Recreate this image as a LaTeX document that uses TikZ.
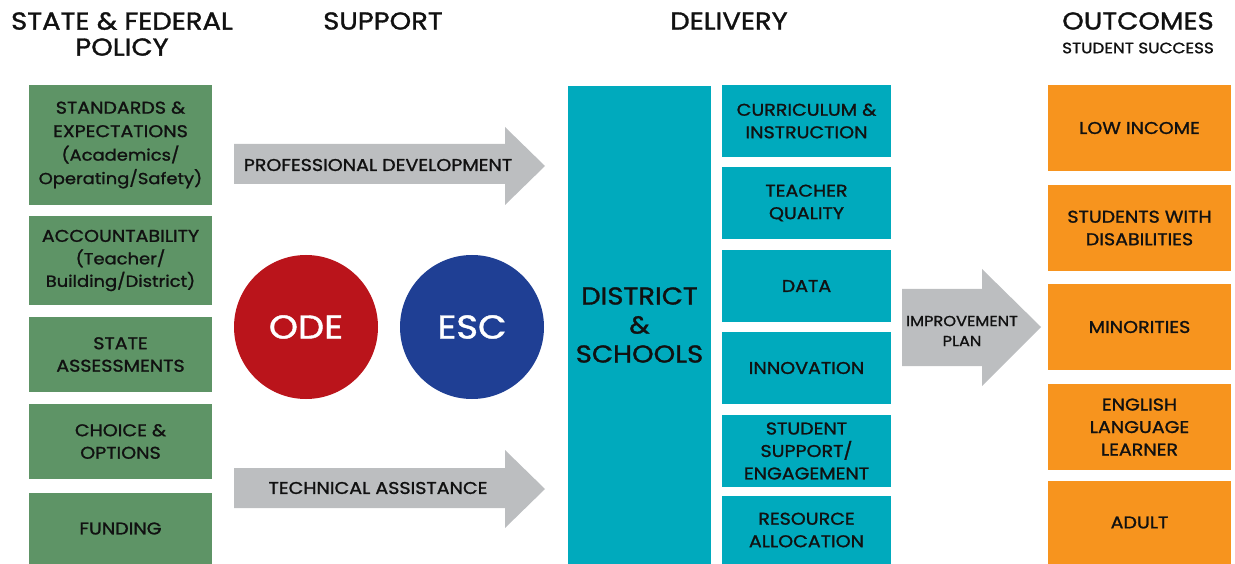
\documentclass[tikz,border=0pt]{standalone}
\usepackage{fontspec}
\setmainfont{Poppins}[FakeStretch=1.12, FakeBold=1.3]
\definecolor{polgreen}{HTML}{5E9466}
\definecolor{delteal}{HTML}{00AABD}
\definecolor{outorange}{HTML}{F7941E}
\definecolor{arrgray}{HTML}{BCBEC0}
\definecolor{odered}{HTML}{BA141B}
\definecolor{escblue}{HTML}{1F3F94}
\definecolor{ink}{HTML}{111111}
\newcommand{\lc}{\fontsize{16}{23.5}\selectfont}
\tikzset{
  box/.style={inner sep=0pt, align=center, text=ink, font=\fontsize{17}{22.5}\selectfont},
  polbox/.style={box, fill=polgreen, minimum width=183pt},
  tealbox/.style={box, fill=delteal, minimum width=169pt, minimum height=72pt},
  orbox/.style={box, fill=outorange, minimum width=183pt, minimum height=86pt},
  title/.style={inner sep=0pt, align=center, text=ink, font=\fontsize{24.5}{26}\selectfont},
  subtitle/.style={inner sep=0pt, text=ink, font=\fontsize{15}{18}\selectfont},
  arrlabel/.style={inner sep=0pt, align=center, text=ink, font=\fontsize{17}{20}\selectfont},
  agency/.style={circle, minimum size=144pt, inner sep=0pt, text=white, font=\fontsize{33}{36}\selectfont},
}
\begin{document}
\begin{tikzpicture}[x=1pt,y=-1pt]
\useasboundingbox (0,0) rectangle (1235,564);
% titles
\node[title] (t1) at (122,34) {STATE \& FEDERAL\\POLICY};
\node[title] (t2) at (383,21) {SUPPORT};
\node[title] (t3) at (729,21) {DELIVERY};
\node[title] (t4) at (1138,21) {OUTCOMES};
\node[subtitle] (t5) at (1138,48) {STUDENT SUCCESS};
% policy column
\node[polbox, minimum height=120pt, font=\fontsize{17}{23.5}\selectfont] (p1) at (120.5,145) {STANDARDS \&\\EXPECTATIONS\\{\lc(Academics/}\\{\lc Operating/Safety)}};
\node[polbox, minimum height=89pt] (p2) at (120.5,260.5) {ACCOUNTABILITY\\{\lc(Teacher/}\\{\lc Building/District)}};
\node[polbox, minimum height=75pt] (p3) at (120.5,354.5) {STATE\\ASSESSMENTS};
\node[polbox, minimum height=75pt] (p4) at (120.5,441.5) {CHOICE \&\\OPTIONS};
\node[polbox, minimum height=71pt] (p5) at (120.5,528.5) {FUNDING};
% support arrows
\fill[arrgray] (234,144) -- (505,144) -- (505,127) -- (545,166) -- (505,205) -- (505,184) -- (234,184) -- cycle;
\node[arrlabel] (a1) at (378,165) {PROFESSIONAL DEVELOPMENT};
\fill[arrgray] (234,468) -- (505,468) -- (505,450) -- (545,489) -- (505,528) -- (505,508) -- (234,508) -- cycle;
\node[arrlabel] (a2) at (378,488) {TECHNICAL ASSISTANCE};
% agencies
\node[agency, fill=odered] (ode) at (306,327) {ODE};
\node[agency, fill=escblue] (esc) at (472,327) {ESC};
% delivery
\node[box, fill=delteal, minimum width=143pt, minimum height=478pt, font=\fontsize{24.5}{29}\selectfont] (ds) at (639.5,325) {DISTRICT\\\&\\SCHOOLS};
\node[tealbox] (d1) at (806.5,121) {CURRICULUM \&\\INSTRUCTION};
\node[tealbox] (d2) at (806.5,203) {TEACHER\\QUALITY};
\node[tealbox] (d3) at (806.5,286) {DATA};
\node[tealbox] (d4) at (806.5,368) {INNOVATION};
\node[tealbox] (d5) at (806.5,451) {STUDENT\\SUPPORT/\\ENGAGEMENT};
\node[tealbox, minimum height=68pt] (d6) at (806.5,530) {RESOURCE\\ALLOCATION};
% improvement arrow
\fill[arrgray] (902,289) -- (982,289) -- (982,269) -- (1041,327) -- (982,386) -- (982,366) -- (902,366) -- cycle;
\node[arrlabel, font=\fontsize{14.5}{20}\selectfont] (ip) at (962,331) {IMPROVEMENT\\PLAN};
% outcomes
\node[orbox] (o1) at (1139.5,128) {LOW INCOME};
\node[orbox] (o2) at (1139.5,228) {STUDENTS WITH\\DISABILITIES};
\node[orbox] (o3) at (1139.5,327) {MINORITIES};
\node[orbox] (o4) at (1139.5,427) {ENGLISH\\LANGUAGE\\LEARNER};
\node[orbox, minimum height=83pt] (o5) at (1139.5,522.5) {ADULT};
\end{tikzpicture}
\end{document}
